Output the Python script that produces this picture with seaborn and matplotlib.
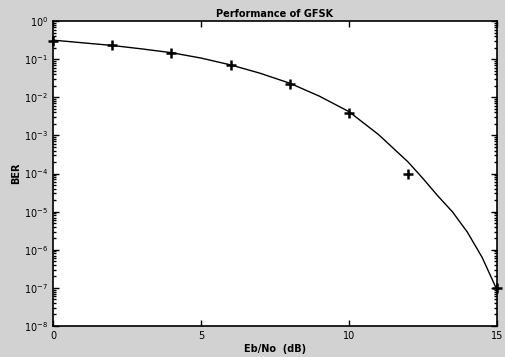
import matplotlib
matplotlib.use("Agg")
import matplotlib.pyplot as plt
import numpy as np
import pandas as pd
import seaborn as sns

# Theory curve
curve_snr = [0, 1, 2, 3, 4, 5, 6, 7, 8, 9, 10, 11, 12, 12.5, 13, 13.5, 14, 14.5, 15]
curve_ber = [0.316, 0.269, 0.229, 0.186, 0.148, 0.107, 0.0708, 0.0427, 0.0234,
             0.0107, 4.2e-3, 1.05e-3, 2.0e-4, 7.4e-5, 2.6e-5, 9.8e-6, 2.9e-6,
             6.3e-7, 8.9e-8]

# Simulated points (+ markers)
sim_snr = [0, 2, 4, 6, 8, 10, 12, 15]
sim_ber = [0.30, 0.23, 0.147, 0.070, 0.022, 3.8e-3, 1.0e-4, 1.0e-7]

df_curve = pd.DataFrame({"snr": curve_snr, "ber": curve_ber})
df_sim = pd.DataFrame({"snr": sim_snr, "ber": sim_ber})

sns.set_style("ticks")
plt.rcParams["font.family"] = ["DejaVu Sans"]
plt.rcParams["xtick.direction"] = "in"
plt.rcParams["ytick.direction"] = "in"
plt.rcParams["text.color"] = "black"
plt.rcParams["axes.labelcolor"] = "black"
plt.rcParams["xtick.color"] = "black"
plt.rcParams["ytick.color"] = "black"

fig = plt.figure(figsize=(5.05, 3.57), dpi=100, facecolor="#d2d2d2")
ax = fig.add_axes([0.105, 0.087, 0.879, 0.854])
ax.set_facecolor("white")

sns.lineplot(data=df_curve, x="snr", y="ber", color="black", linewidth=1.0, ax=ax)
sns.scatterplot(data=df_sim, x="snr", y="ber", marker="+", s=60, color="black",
                linewidth=1.8, ax=ax, zorder=3, clip_on=False)

ax.set_yscale("log")
ax.set_xlim(0, 15)
ax.set_ylim(1e-8, 1)
ax.set_xticks([0, 5, 10, 15])
ax.set_yticks([10.0 ** k for k in range(-8, 1)])
ax.tick_params(which="both", top=True, right=True, labelsize=7, width=1.0)
ax.tick_params(which="major", length=4)
ax.tick_params(which="minor", length=2)
for s in ax.spines.values():
    s.set_linewidth(1.2)
    s.set_color("black")

ax.set_title("Performance of GFSK", fontsize=7, fontweight="bold", pad=3)
ax.set_xlabel("Eb/No  (dB)", fontsize=7, fontweight="bold", labelpad=2)
ax.set_ylabel("BER", fontsize=7, fontweight="bold", labelpad=2)

fig.savefig("out.png", dpi=100, facecolor=fig.get_facecolor())
